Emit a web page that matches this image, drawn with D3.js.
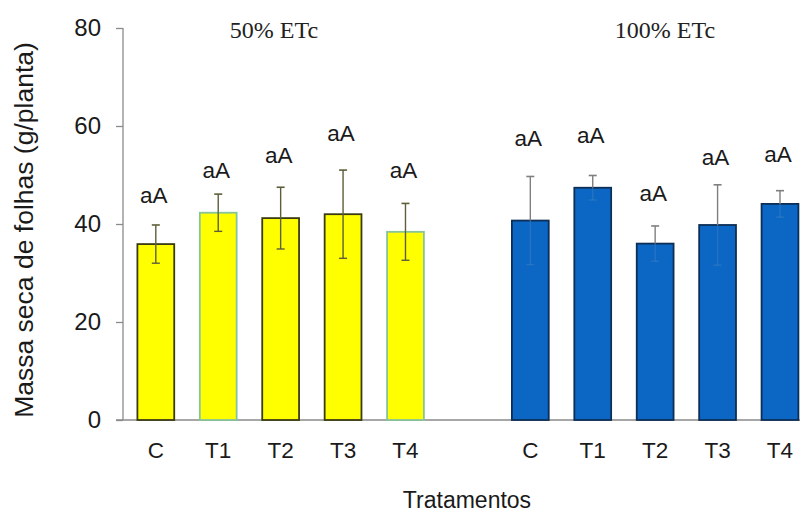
<!DOCTYPE html>
<html>
<head>
<meta charset="utf-8">
<script src="https://cdn.jsdelivr.net/npm/d3@7"></script>
<style>
  html, body { margin: 0; padding: 0; background: #ffffff; }
  svg { display: block; }
</style>
</head>
<body>
<svg id="chart" width="800" height="514"></svg>
<script>
// Treatments within each irrigation level
const categories = ["C", "T1", "T2", "T3", "T4"];
const groupTitles = ["50% ETc", "100% ETc"];

// Leaf dry mass (g/plant): means and error-bar half widths
const etc50 = [35.9, 42.3, 41.2, 42.0, 38.4];
const etc50Err = [3.9, 3.8, 6.3, 9.0, 5.8];
const etc100 = [40.7, 47.4, 36.0, 39.8, 44.1];
const etc100Err = [9.0, 2.5, 3.6, 8.2, 2.7];

// Mean-comparison letters and the height (g/plant) where each sits
const etc50Letters = ["aA", "aA", "aA", "aA", "aA"];
const etc100Letters = ["aA", "aA", "aA", "aA", "aA"];
const etc50LetterAt = [44.3, 49.4, 52.4, 56.9, 49.3];
const etc100LetterAt = [56.0, 56.5, 44.7, 52.0, 52.7];

const yTicks = [0, 20, 40, 60, 80];

// ---- styling ----
const FONT = "'Liberation Sans', Arial, sans-serif";
const SERIF = "'Liberation Serif', 'Times New Roman', serif";
const axisColor = "#8a8a8a";
const yellowFill = "#ffff00";
const yellowOutline = ["#3b3b12", "#86c49a", "#3b3b12", "#3b3b12", "#86c49a"];
const blueFill = "#0b66c4";
const blueOutline = "#0d2f57";

const svg = d3.select("#chart");

// One slot per bar, with an empty slot separating the two irrigation levels
const slots = [
  ...categories.map(c => "50|" + c),
  "gap",
  ...categories.map(c => "100|" + c)
];

const x = d3.scaleBand()
  .domain(slots)
  .range([124.6, 811.2])
  .paddingInner(0.41)
  .paddingOuter(0.205);

const y = d3.scaleLinear().domain([0, 80]).range([420, 28]);

const groups = [
  { key: "50", values: etc50, err: etc50Err, letters: etc50Letters, letterAt: etc50LetterAt },
  { key: "100", values: etc100, err: etc100Err, letters: etc100Letters, letterAt: etc100LetterAt }
];

const rows = [];
groups.forEach((g, gi) => {
  categories.forEach((c, i) => {
    rows.push({
      group: gi, slot: g.key + "|" + c, cat: c, i,
      value: g.values[i], err: g.err[i],
      letter: g.letters[i], letterAt: g.letterAt[i]
    });
  });
});

// ---- y axis ----
const yAxis = d3.axisLeft(y).tickValues(yTicks).tickSize(7).tickPadding(15).tickFormat(d3.format("d"));
const yG = svg.append("g").attr("transform", "translate(123,0)").call(yAxis);
yG.select(".domain").attr("stroke", axisColor).attr("stroke-width", 1.3)
  .attr("d", `M0,${y(80)}V${y(0)}`);
yG.selectAll(".tick line").attr("stroke", axisColor).attr("stroke-width", 1.3);
yG.selectAll(".tick text")
  .attr("font-family", FONT).attr("font-size", 24).attr("fill", "#1a1a1a");

// ---- x axis baseline and category labels ----
svg.append("line")
  .attr("x1", 116).attr("x2", 800)
  .attr("y1", y(0)).attr("y2", y(0))
  .attr("stroke", axisColor).attr("stroke-width", 1.5);

const xAxis = d3.axisBottom(x)
  .tickValues(slots.filter(s => s !== "gap"))
  .tickSize(0).tickPadding(22)
  .tickFormat(s => s.split("|")[1]);
const xG = svg.append("g").attr("transform", `translate(0,${y(0)})`).call(xAxis);
xG.select(".domain").remove();
xG.selectAll(".tick text")
  .attr("font-family", FONT).attr("font-size", 22.5).attr("fill", "#1a1a1a");

// ---- bars ----
const barW = x.bandwidth();
svg.append("g").selectAll("rect")
  .data(rows)
  .join("rect")
  .attr("x", d => x(d.slot))
  .attr("y", d => y(d.value))
  .attr("width", barW)
  .attr("height", d => y(0) - y(d.value))
  .attr("fill", d => d.group === 0 ? yellowFill : blueFill)
  .attr("stroke", d => d.group === 0 ? yellowOutline[d.i] : blueOutline)
  .attr("stroke-width", 1.8);

// ---- error bars ----
const capHalf = 4;
const eb = svg.append("g").selectAll("g")
  .data(rows)
  .join("g")
  .attr("transform", d => `translate(${x(d.slot) + barW / 2},0)`);

const upColor = d => d.group === 0 ? "#5e5e3a" : "#7f7f7f";
const inColor = d => d.group === 0 ? "#5e5e3a" : "#4f86c0";
const inOpacity = d => d.group === 0 ? 1 : 0.4;

// part above the bar top
eb.append("line")
  .attr("y1", d => y(d.value)).attr("y2", d => y(d.value + d.err))
  .attr("stroke", upColor).attr("stroke-width", 1.4);
// part inside the bar
eb.append("line")
  .attr("y1", d => y(d.value)).attr("y2", d => y(d.value - d.err))
  .attr("stroke", inColor).attr("stroke-opacity", inOpacity).attr("stroke-width", 1.4);
// caps
eb.append("line")
  .attr("x1", -capHalf).attr("x2", capHalf)
  .attr("y1", d => y(d.value + d.err)).attr("y2", d => y(d.value + d.err))
  .attr("stroke", upColor).attr("stroke-width", 1.6);
eb.append("line")
  .attr("x1", -capHalf).attr("x2", capHalf)
  .attr("y1", d => y(d.value - d.err)).attr("y2", d => y(d.value - d.err))
  .attr("stroke", inColor).attr("stroke-opacity", inOpacity).attr("stroke-width", 1.4);

// ---- comparison letters ----
svg.append("g").selectAll("text")
  .data(rows)
  .join("text")
  .attr("x", d => x(d.slot) + barW / 2 - 2)
  .attr("y", d => y(d.letterAt))
  .attr("text-anchor", "middle")
  .attr("font-family", FONT).attr("font-size", 22.5).attr("fill", "#1a1a1a")
  .text(d => d.letter);

// ---- irrigation level titles ----
svg.append("text")
  .attr("x", 274).attr("y", 38)
  .attr("text-anchor", "middle")
  .attr("font-family", SERIF).attr("font-size", 24).attr("fill", "#222")
  .text(groupTitles[0]);
svg.append("text")
  .attr("x", 665).attr("y", 38)
  .attr("text-anchor", "middle")
  .attr("font-family", SERIF).attr("font-size", 24).attr("fill", "#222")
  .text(groupTitles[1]);

// ---- axis titles ----
svg.append("text")
  .attr("transform", "translate(33,230) rotate(-90)")
  .attr("text-anchor", "middle")
  .attr("font-family", FONT).attr("font-size", 26.5).attr("fill", "#1a1a1a")
  .text("Massa seca de folhas (g/planta)");

svg.append("text")
  .attr("x", 467).attr("y", 508)
  .attr("text-anchor", "middle")
  .attr("font-family", FONT).attr("font-size", 23).attr("fill", "#1a1a1a")
  .text("Tratamentos");
</script>
</body>
</html>
